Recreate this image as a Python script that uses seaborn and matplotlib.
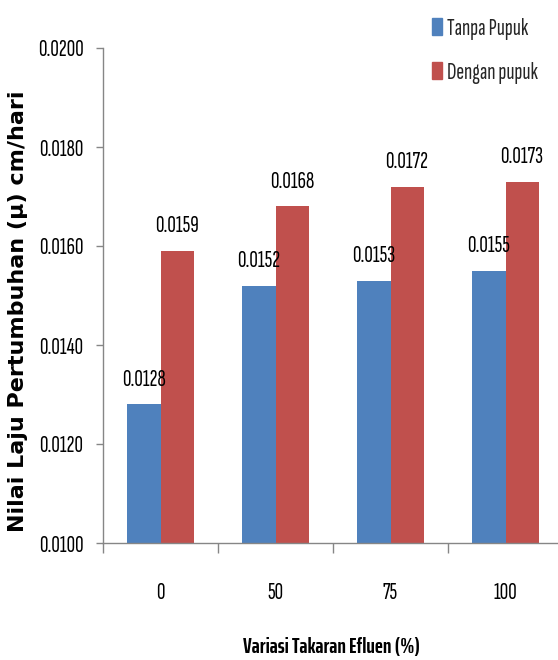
import matplotlib
matplotlib.use("Agg")
import matplotlib.pyplot as plt
from matplotlib import font_manager as fm
import seaborn as sns
import pandas as pd

# Growth rate per effluent dose, without and with fertilizer
doses = ["0", "50", "75", "100"]
tanpa_pupuk = [0.0128, 0.0152, 0.0153, 0.0155]
dengan_pupuk = [0.0159, 0.0168, 0.0172, 0.0173]
series_names = ["Tanpa Pupuk", "Dengan pupuk"]
colors = ["#4F81BD", "#C0504D"]
y_ticks = [0.0100, 0.0120, 0.0140, 0.0160, 0.0180, 0.0200]

df = pd.DataFrame({
    "dose": doses * 2,
    "series": [series_names[0]] * len(doses) + [series_names[1]] * len(doses),
    "value": tanpa_pupuk + dengan_pupuk,
})

FS = 17
narrow = ["Sofia Sans Extra Condensed", "Lato", "DejaVu Sans"]


def first_bold_family(candidates, fallback="DejaVu Sans"):
    """Return the first candidate family that ships a real bold face."""
    bold = set()
    for f in fm.fontManager.ttflist:
        w = f.weight
        if isinstance(w, str):
            w = 700 if "bold" in w.lower() else 400
        if w >= 700:
            bold.add(f.name)
    for c in candidates:
        if c in bold:
            return c
    return fallback


bold_narrow = first_bold_family(["Sofia Sans Extra Condensed",
                                 "Saira ExtraCondensed",
                                 "Fira Sans Extra Condensed",
                                 "Roboto Condensed", "Open Sans Condensed"])

sns.set_theme(style="white")
plt.rcParams["font.family"] = narrow

fig = plt.figure(figsize=(5.58, 6.6), dpi=100)
ax = fig.add_axes([103 / 558, 117 / 660, 455 / 558, 495 / 660])

sns.barplot(data=df, x="dose", y="value", hue="series", order=doses,
            hue_order=series_names, palette=colors, width=0.575, gap=0,
            saturation=1, linewidth=0, ax=ax, legend=False)

for cont in ax.containers:
    ax.bar_label(cont, fmt="%.4f", padding=10, fontsize=FS, color="black")

ax.set_ylim(0.0100, 0.0200)
ax.set_xlim(-0.5, -0.5 + 455 / 115)
ax.set_yticks(y_ticks)
ax.set_yticklabels([f"{v:.4f}" for v in y_ticks], fontsize=FS, color="black")
ax.set_xticks(range(len(doses)))
ax.set_xticklabels(doses, fontsize=FS, color="black")
ax.set_xticks([-0.5, 0.5, 1.5, 2.5], minor=True)

ax.tick_params(axis="x", which="major", length=0, pad=28)
ax.tick_params(axis="x", which="minor", length=7, width=1, color="#868686",
               direction="out", bottom=True)
ax.tick_params(axis="y", length=5, width=1, color="#868686", direction="out",
               left=True, pad=9)

for side in ["top", "right"]:
    ax.spines[side].set_visible(False)
for side in ["left", "bottom"]:
    ax.spines[side].set_color("#868686")
    ax.spines[side].set_linewidth(1)

ax.set_xlabel("Variasi Takaran Efluen (%)", fontsize=16, fontweight="bold",
              color="black", family=[bold_narrow, "DejaVu Sans"])
ax.xaxis.label.set_verticalalignment("center")
ax.xaxis.set_label_coords((331 - 103) / 455, (13 - 117) / 495)

# size the axis title so it spans about 178 px
fig.canvas.draw()
w = ax.xaxis.label.get_window_extent().width
ax.xaxis.label.set_fontsize(16 * 178 / w)

ax.set_ylabel("Nilai Laju Pertumbuhan (\u00b5) cm/hari", fontsize=16,
              fontweight="bold", color="black", family="DejaVu Sans")
ax.yaxis.label.set_verticalalignment("center")
ax.yaxis.set_label_coords((18 - 103) / 455, (349 - 117) / 495)

handles = [plt.Rectangle((0, 0), 1, 1, color=c) for c in colors]
fig.legend(handles, series_names, loc="upper left",
           bbox_to_anchor=(432 / 558, 1 - 18 / 660), frameon=False,
           fontsize=FS, handlelength=0.42, handleheight=0.72,
           handletextpad=0.22, labelspacing=0.93, borderpad=0,
           borderaxespad=0)

fig.savefig("out.png", dpi=100)
